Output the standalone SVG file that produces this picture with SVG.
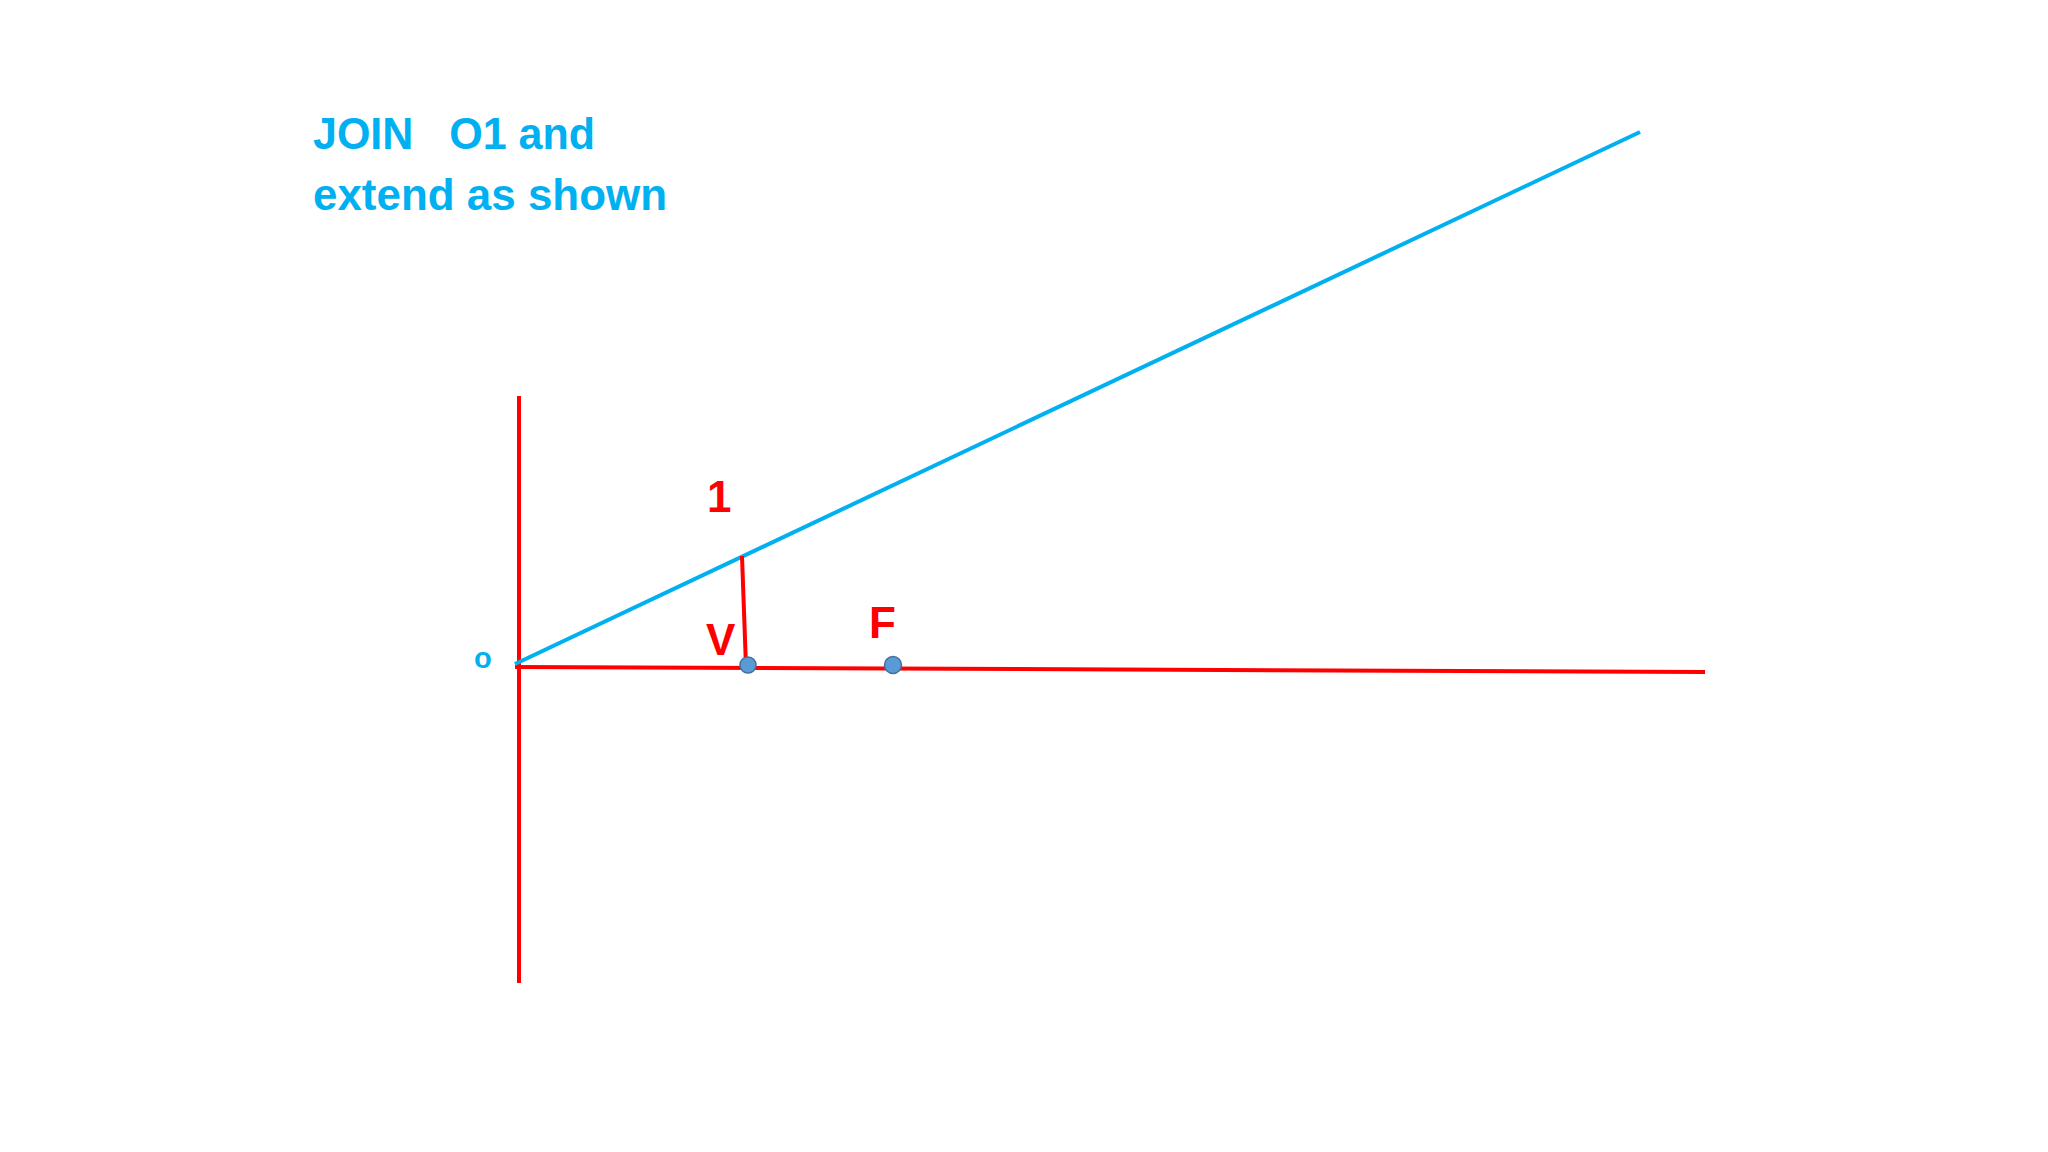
<svg xmlns="http://www.w3.org/2000/svg" width="2048" height="1152" viewBox="0 0 2048 1152">
<style>
.red{stroke:#FF0000;stroke-width:4;fill:none}
.blue{stroke:#00B0F0;stroke-width:4;fill:none}
.dot{fill:#5B9BD5;stroke:#41719C;stroke-width:1.5}
.lbl{font-family:"Liberation Sans",Arial,sans-serif;font-weight:bold;fill:#FF0000;font-size:44px}
.title{font-family:"Liberation Sans",Arial,sans-serif;font-weight:bold;fill:#00B0F0;font-size:45px}
</style>
<rect width="2048" height="1152" fill="#FFFFFF"/>
<g id="title">
<text class="title" x="313" y="149" xml:space="preserve" textLength="282" lengthAdjust="spacingAndGlyphs">JOIN   O1 and</text>
<text class="title" x="313" y="210" textLength="354" lengthAdjust="spacingAndGlyphs">extend as shown</text>
</g>
<g id="connectors">
<line class="red" x1="519" y1="396" x2="519" y2="983"/>
<line class="red" x1="515" y1="667" x2="1705" y2="672"/>
<line class="blue" x1="515" y1="664" x2="1640" y2="132"/>
<line class="red" x1="742" y1="556" x2="746" y2="667"/>
</g>
<g id="point-O"><text x="474" y="668" font-family="Liberation Sans, Arial, sans-serif" font-weight="bold" font-size="29" fill="#00B0F0">o</text></g>
<g id="point-1"><text class="lbl" x="707" y="512">1</text></g>
<g id="point-V"><circle class="dot" cx="748" cy="665" r="8"/><text class="lbl" x="706" y="655">V</text></g>
<g id="point-F"><circle class="dot" cx="893" cy="665" r="8.5"/><text class="lbl" x="869" y="638">F</text></g>
</svg>
